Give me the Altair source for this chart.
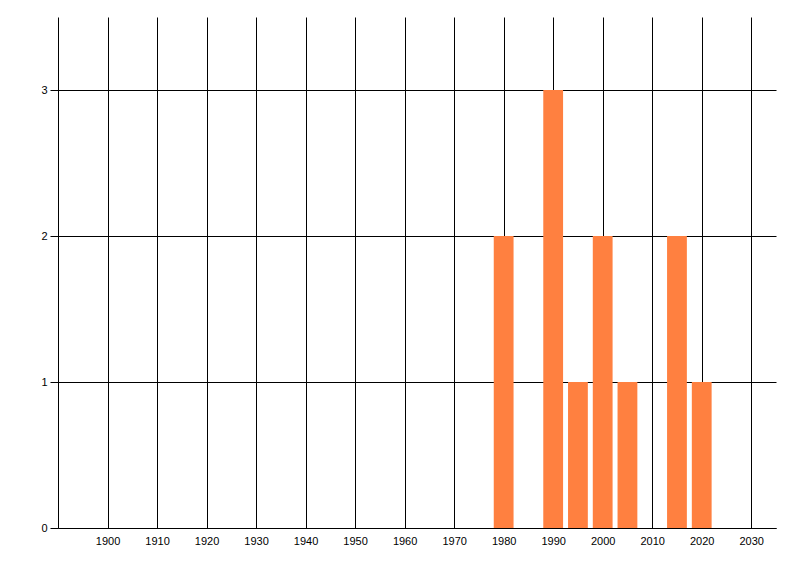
import altair as alt
import pandas as pd

years = [1980, 1990, 1995, 2000, 2005, 2015, 2020]
counts = [2, 3, 1, 2, 1, 2, 1]
x_ticks = [1900, 1910, 1920, 1930, 1940, 1950, 1960, 1970, 1980, 1990, 2000, 2010, 2020, 2030]
y_ticks = [0, 1, 2, 3]
half_width = 2

df = pd.DataFrame({"year": years, "count": counts})
df["x0"] = df["year"] - half_width
df["x1"] = df["year"] + half_width
df["base"] = 0

chart = alt.Chart(df).mark_rect(color="#FF8040").encode(
    x=alt.X("x0:Q", scale=alt.Scale(domain=[1890, 2035], nice=False, zero=False),
            axis=alt.Axis(values=x_ticks, title=None, grid=True, gridColor="#000000",
                          gridOpacity=1, ticks=False, labelPadding=7, format="d",
                          domainColor="#000000", labelFlush=False)),
    x2="x1:Q",
    y=alt.Y("count:Q", scale=alt.Scale(domain=[0, 3.5], nice=False),
            axis=alt.Axis(values=y_ticks, title=None, grid=True, gridColor="#000000",
                          gridOpacity=1, tickSize=8, tickColor="#000000",
                          labelPadding=3, domainColor="#000000", format="d")),
    y2="base:Q",
).properties(
    width=718, height=511,
    padding={"left": 50, "top": 9, "right": 10, "bottom": 30},
    autosize=alt.AutoSizeParams(type="none"),
).configure_axis(
    labelFont="Liberation Sans", labelFontSize=11, labelColor="#000000",
    domainWidth=1, gridWidth=1, tickWidth=1,
).configure_view(stroke=None)

chart.save("out.html", embed_options={"renderer": "svg", "actions": False})
